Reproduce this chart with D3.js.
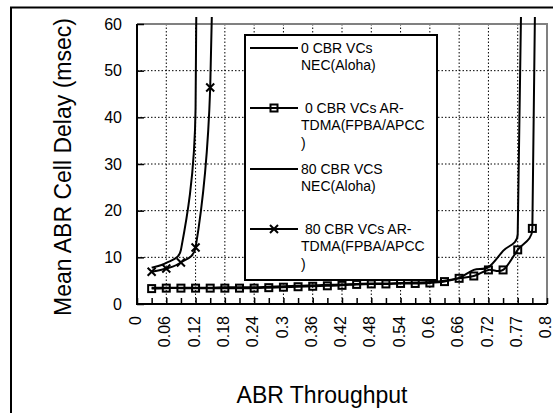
<!DOCTYPE html>
<html lang="en">
<head>
    <meta charset="UTF-8">
    <title>Mean ABR Cell Delay</title>
    <script src="https://d3js.org/d3.v7.min.js"></script>
    <style>
        body { margin: 0; background: #fff; }
        svg { font-family: "Liberation Sans", Arial, sans-serif; }
        .grid line { stroke: #000; stroke-width: 1px; stroke-dasharray: 1.5,2; }
        .series { fill: none; stroke: #000; stroke-width: 2px; }
    </style>
</head>
<body>
    <svg id="svg" width="553" height="413"></svg>
    <script>
        // throughput categories (category axis, every other one labelled)
        const categories = ["0", "0.03", "0.06", "0.09", "0.12", "0.15", "0.18", "0.21", "0.24", "0.27",
            "0.3", "0.33", "0.36", "0.39", "0.42", "0.45", "0.48", "0.51", "0.54", "0.57",
            "0.6", "0.63", "0.66", "0.69", "0.72", "0.745", "0.77", "0.785", "0.8"];
        const yTicks = [0, 10, 20, 30, 40, 50, 60];

        // mean delay (msec) per category, null = no point
        const nec0 = [null, 3.5, 3.5, 3.5, 3.5, 3.5, 3.6, 3.6, 3.6, 3.7, 3.8, 3.9, 4.0, 4.1, 4.2,
            4.3, 4.4, 4.4, 4.5, 4.6, 4.7, 5.0, 5.6, 7.3, 7.9, 11.4, 15.0, 250, null];
        const ar0 = [null, 3.3, 3.4, 3.4, 3.4, 3.4, 3.4, 3.4, 3.4, 3.5, 3.6, 3.7, 3.8, 3.9, 4.0,
            4.2, 4.3, 4.3, 4.4, 4.4, 4.5, 4.8, 5.5, 6.0, 7.3, 7.3, 11.6, 16.2, 310];
        const nec80 = [null, 7.8, 8.8, 11.6, 42, 500];
        const ar80 = [null, 6.9, 7.6, 8.9, 12.1, 46.4, 200];

        const legendLabels = [
            ["0 CBR VCs", "NEC(Aloha)"],
            [" 0 CBR VCs AR-", "TDMA(FPBA/APCC", ")"],
            ["80 CBR VCS", "NEC(Aloha)"],
            [" 80 CBR VCs AR-", "TDMA(FPBA/APCC", ")"]
        ];
        const xTitle = "ABR Throughput";
        const yTitle = "Mean ABR Cell Delay (msec)";

        const series = [
            {values: nec0, marker: null},
            {values: ar0, marker: "square"},
            {values: nec80, marker: null},
            {values: ar80, marker: "x"}
        ];

        const pLeft = 137, pRight = 547, pTop = 24, pBottom = 304;
        const svg = d3.select("#svg");

        const x = d3.scalePoint().domain(categories).range([pLeft, pRight]).padding(0);
        const y = d3.scaleLinear().domain([0, 60]).range([pBottom, pTop]);

        // outer chart border (runs off the right and bottom edges)
        svg.append("rect")
            .attr("x", 11).attr("y", 7.5).attr("width", 600).attr("height", 450)
            .attr("fill", "none").attr("stroke", "#000").attr("stroke-width", 2);

        // gridlines
        const grid = svg.append("g").attr("class", "grid");
        grid.selectAll(".h").data(yTicks.filter(d => d > 0 && d < 60)).enter().append("line")
            .attr("x1", pLeft).attr("x2", pRight)
            .attr("y1", d => y(d)).attr("y2", d => y(d));
        grid.selectAll(".v").data(categories.filter((d, i) => i % 2 === 0 && i > 0 && i < categories.length - 1))
            .enter().append("line")
            .attr("x1", d => x(d)).attr("x2", d => x(d))
            .attr("y1", pTop).attr("y2", pBottom);

        // top and right plot border
        svg.append("path")
            .attr("d", `M${pLeft},${pTop}H${pRight}V${pBottom}`)
            .attr("fill", "none").attr("stroke", "#808080").attr("stroke-width", 2);

        // axes
        const xAxis = svg.append("g")
            .attr("transform", `translate(0,${pBottom})`)
            .call(d3.axisBottom(x).tickSize(-6).tickFormat((d, i) => i % 2 ? "" : d));
        xAxis.select(".domain").remove();
        xAxis.selectAll(".tick line").attr("stroke", "#000").attr("stroke-width", 1.5);
        xAxis.selectAll(".tick text")
            .attr("transform", "rotate(-90)")
            .attr("text-anchor", "end")
            .attr("x", -12).attr("y", -2).attr("dy", "0.35em")
            .attr("font-size", 16).attr("fill", "#000");

        const yAxis = svg.append("g")
            .attr("transform", `translate(${pLeft},0)`)
            .call(d3.axisLeft(y).tickValues(yTicks).tickSize(-7).tickPadding(15));
        yAxis.select(".domain").remove();
        yAxis.selectAll(".tick line").attr("stroke", "#000").attr("stroke-width", 1.5);
        yAxis.selectAll(".tick text").attr("font-size", 16).attr("fill", "#000");

        svg.append("path")
            .attr("d", `M${pLeft},${pTop}V${pBottom}H${pRight}`)
            .attr("fill", "none").attr("stroke", "#000").attr("stroke-width", 2);

        // Excel-like smoothed line: catmull-rom with control arms capped at half a segment
        function excelSmooth(context) {
            return {
                areaStart() {}, areaEnd() {},
                lineStart() { this.pts = []; },
                point(px, py) { this.pts.push([+px, +py]); },
                lineEnd() {
                    const p = this.pts, n = p.length;
                    if (!n) return;
                    const dist = (a, b) => Math.hypot(a[0] - b[0], a[1] - b[1]);
                    context.moveTo(p[0][0], p[0][1]);
                    for (let i = 0; i < n - 1; i++) {
                        const p0 = p[i - 1] || p[i], p1 = p[i], p2 = p[i + 1], p3 = p[i + 2] || p2;
                        const d12 = dist(p1, p2), d02 = dist(p0, p2), d13 = dist(p1, p3);
                        const f = d02 ? Math.min(1 / 6, d12 / (2 * d02)) : 0;
                        const g = d13 ? Math.min(1 / 6, d12 / (2 * d13)) : 0;
                        context.bezierCurveTo(
                            p1[0] + f * (p2[0] - p0[0]), p1[1] + f * (p2[1] - p0[1]),
                            p2[0] - g * (p3[0] - p1[0]), p2[1] - g * (p3[1] - p1[1]),
                            p2[0], p2[1]);
                    }
                }
            };
        }

        svg.append("clipPath").attr("id", "clip")
            .append("rect").attr("x", pLeft - 4).attr("y", 17)
            .attr("width", pRight - pLeft + 8).attr("height", pBottom - 17 + 6);

        const plot = svg.append("g").attr("clip-path", "url(#clip)");
        const line = d3.line()
            .defined(d => d.v != null)
            .x(d => x(d.c)).y(d => y(d.v))
            .curve(excelSmooth);

        function drawMarker(g, type, cx, cy) {
            if (type === "square") {
                g.append("rect").attr("x", cx - 3.5).attr("y", cy - 3.5)
                    .attr("width", 7).attr("height", 7)
                    .attr("fill", "none").attr("stroke", "#000").attr("stroke-width", 2);
            } else if (type === "x") {
                g.append("path")
                    .attr("d", `M${cx - 4},${cy - 4}L${cx + 4},${cy + 4}M${cx - 4},${cy + 4}L${cx + 4},${cy - 4}`)
                    .attr("stroke", "#000").attr("stroke-width", 2);
            }
        }

        series.forEach(s => {
            const pts = s.values.map((v, i) => ({c: categories[i], v: v}));
            plot.append("path").attr("class", "series").attr("d", line(pts));
            if (s.marker) {
                const mg = plot.append("g");
                pts.filter(d => d.v != null).forEach(d => drawMarker(mg, s.marker, x(d.c), y(d.v)));
            }
        });

        // legend
        const lx = 245, ly = 35, lw = 192, lh = 245;
        const legend = svg.append("g");
        legend.append("rect").attr("x", lx).attr("y", ly).attr("width", lw).attr("height", lh)
            .attr("fill", "#fff").attr("stroke", "#000").attr("stroke-width", 2);
        const entryY = [48, 108, 169, 229];
        legendLabels.forEach((lines, i) => {
            const yy = entryY[i];
            legend.append("line").attr("x1", 250).attr("x2", 298)
                .attr("y1", yy).attr("y2", yy)
                .attr("stroke", "#000").attr("stroke-width", 2);
            drawMarker(legend, series[i].marker, 274, yy);
            const t = legend.append("text").attr("x", 301).attr("y", yy)
                .attr("font-size", 14).attr("fill", "#000").attr("xml:space", "preserve");
            lines.forEach((s, j) => {
                t.append("tspan").attr("x", 301).attr("dy", j === 0 ? "0.35em" : 17.5).text(s);
            });
        });

        // axis titles
        svg.append("text")
            .attr("x", 322).attr("y", 403)
            .attr("text-anchor", "middle").attr("font-size", 23)
            .text(xTitle);
        svg.append("text")
            .attr("transform", "translate(63,167) rotate(-90)")
            .attr("text-anchor", "middle").attr("dy", "0.35em").attr("font-size", 23)
            .text(yTitle);
    </script>
</body>
</html>
